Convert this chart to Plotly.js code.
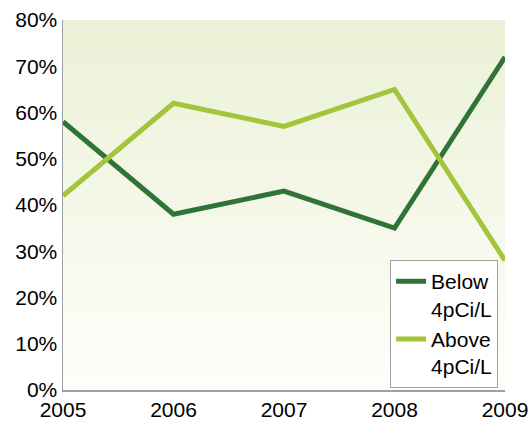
<!DOCTYPE html>
<html>
<head>
<meta charset="utf-8">
<script src="https://cdn.plot.ly/plotly-3.0.1.min.js"></script>
<style>
  html, body { margin: 0; padding: 0; background: #ffffff; }
  #chart { width: 530px; height: 422px; }
</style>
</head>
<body>
<div id="chart"></div>
<script>
// Radon test results by year: share of homes below / above 4 pCi/L
const years = [2005, 2006, 2007, 2008, 2009];
const belowShare = [0.58, 0.38, 0.43, 0.35, 0.72];
const aboveShare = [0.42, 0.62, 0.57, 0.65, 0.28];
const seriesNames = ['Below<br>4pCi/L', 'Above<br>4pCi/L'];
const yTicks = [0, 0.1, 0.2, 0.3, 0.4, 0.5, 0.6, 0.7, 0.8];

const yMax = yTicks[yTicks.length - 1];

// Soft green backdrop that fades to white toward the bottom of the plot
const backdrop = {
  x: [years[0], years[years.length - 1]],
  y: [yMax, yMax],
  type: 'scatter',
  mode: 'none',
  fill: 'tozeroy',
  fillgradient: {
    type: 'vertical',
    start: 0,
    stop: yMax,
    colorscale: [[0, '#fefefa'], [1, '#ebf1d6']]
  },
  hoverinfo: 'skip',
  showlegend: false
};

const below = {
  x: years, y: belowShare, name: seriesNames[0],
  type: 'scatter', mode: 'lines',
  line: { color: '#2f7436', width: 5 }
};
const above = {
  x: years, y: aboveShare, name: seriesNames[1],
  type: 'scatter', mode: 'lines',
  line: { color: '#a3c53b', width: 5 }
};

const font = { family: 'Liberation Sans, Arial, sans-serif', size: 21, color: '#000000' };

const layout = {
  width: 530, height: 422,
  margin: { l: 63, r: 25, t: 20, b: 32 },
  paper_bgcolor: '#ffffff',
  plot_bgcolor: 'rgba(0,0,0,0)',
  font: font,
  showlegend: true,
  legend: {
    x: 0.74, y: 0.005, xanchor: 'left', yanchor: 'bottom',
    bgcolor: '#ffffff', bordercolor: '#a0a0a0', borderwidth: 1,
    font: { family: font.family, size: 21, color: '#000000' },
    valign: 'top',
    itemwidth: 30,
    tracegroupgap: 0
  },
  xaxis: {
    range: [years[0], years[years.length - 1]],
    tickvals: years, ticktext: years.map(String),
    showgrid: false, zeroline: false,
    showline: true, linecolor: '#a0a0a0', linewidth: 1.5,
    ticks: '', tickfont: font
  },
  yaxis: {
    range: [0, yMax],
    tickvals: yTicks, tickformat: '.0%',
    showgrid: true, gridcolor: '#a6a6a6', gridwidth: 1.5,
    zeroline: false,
    showline: true, linecolor: '#a0a0a0', linewidth: 1.5,
    ticks: '', tickfont: font
  }
};

Plotly.newPlot('chart', [backdrop, below, above], layout, { displayModeBar: false, staticPlot: true });
</script>
</body>
</html>
